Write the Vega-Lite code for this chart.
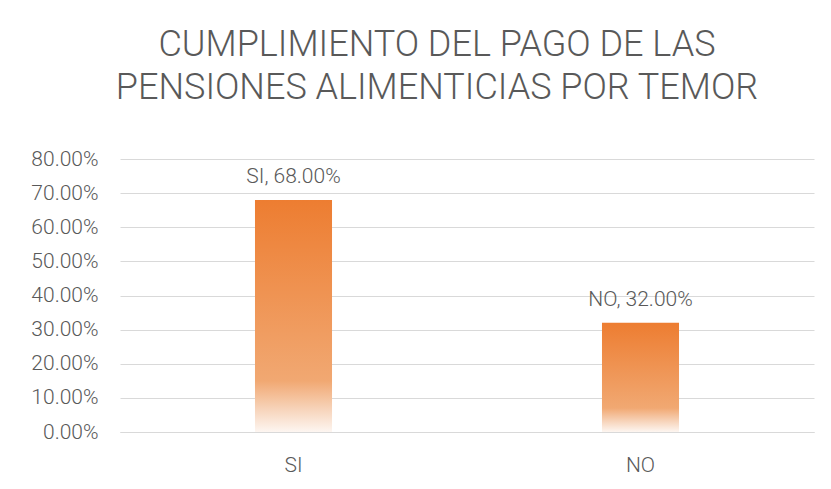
{
  "$schema": "https://vega.github.io/schema/vega-lite/v6.json",
  "width": 694,
  "height": 273,
  "autosize": {"type": "none"},
  "padding": {"left": 120, "top": 159, "right": 17, "bottom": 57},
  "background": "#ffffff",
  "title": {
    "text": ["CUMPLIMIENTO DEL PAGO DE LAS", "PENSIONES ALIMENTICIAS POR TEMOR"],
    "font": "Roboto",
    "fontWeight": 300,
    "fontSize": 36,
    "lineHeight": 43,
    "color": "#595959",
    "anchor": "middle",
    "frame": "group",
    "dx": -30,
    "offset": 41
  },
  "data": {
    "values": [
      {"cat": "SI", "value": 0.68},
      {"cat": "NO", "value": 0.32}
    ]
  },
  "transform": [
    {"calculate": "datum.cat + ', ' + format(datum.value, '.2%')", "as": "label"}
  ],
  "config": {
    "view": {"stroke": null},
    "axis": {
      "labelFont": "Roboto",
      "labelFontWeight": 300,
      "labelColor": "#595959",
      "labelFontSize": 21
    }
  },
  "encoding": {
    "x": {
      "field": "cat",
      "type": "nominal",
      "sort": ["SI", "NO"],
      "scale": {"paddingInner": 0.778, "paddingOuter": 0.389},
      "axis": {
        "title": null,
        "labelAngle": 0,
        "ticks": false,
        "domainColor": "#d9d9d9",
        "labelPadding": 22
      }
    },
    "y": {
      "field": "value",
      "type": "quantitative",
      "scale": {"domain": [0, 0.8]},
      "axis": {
        "title": null,
        "format": ".2%",
        "values": [0, 0.1, 0.2, 0.3, 0.4, 0.5, 0.6, 0.7, 0.8],
        "labelOverlap": false,
        "ticks": false,
        "domain": false,
        "gridColor": "#d9d9d9",
        "labelPadding": 22
      }
    }
  },
  "layer": [
    {
      "mark": {
        "type": "bar",
        "color": {
          "gradient": "linear",
          "x1": 0, "y1": 0, "x2": 0, "y2": 1,
          "stops": [
            {"offset": 0, "color": "#ED7D31"},
            {"offset": 0.78, "color": "#F1A872"},
            {"offset": 0.9, "color": "#F7D3B9"},
            {"offset": 1, "color": "#FDF6F1"}
          ]
        }
      }
    },
    {
      "mark": {
        "type": "text",
        "baseline": "bottom",
        "dy": -13,
        "font": "Roboto",
        "fontWeight": 300,
        "fontSize": 21,
        "color": "#595959"
      },
      "encoding": {"text": {"field": "label"}}
    }
  ]
}
